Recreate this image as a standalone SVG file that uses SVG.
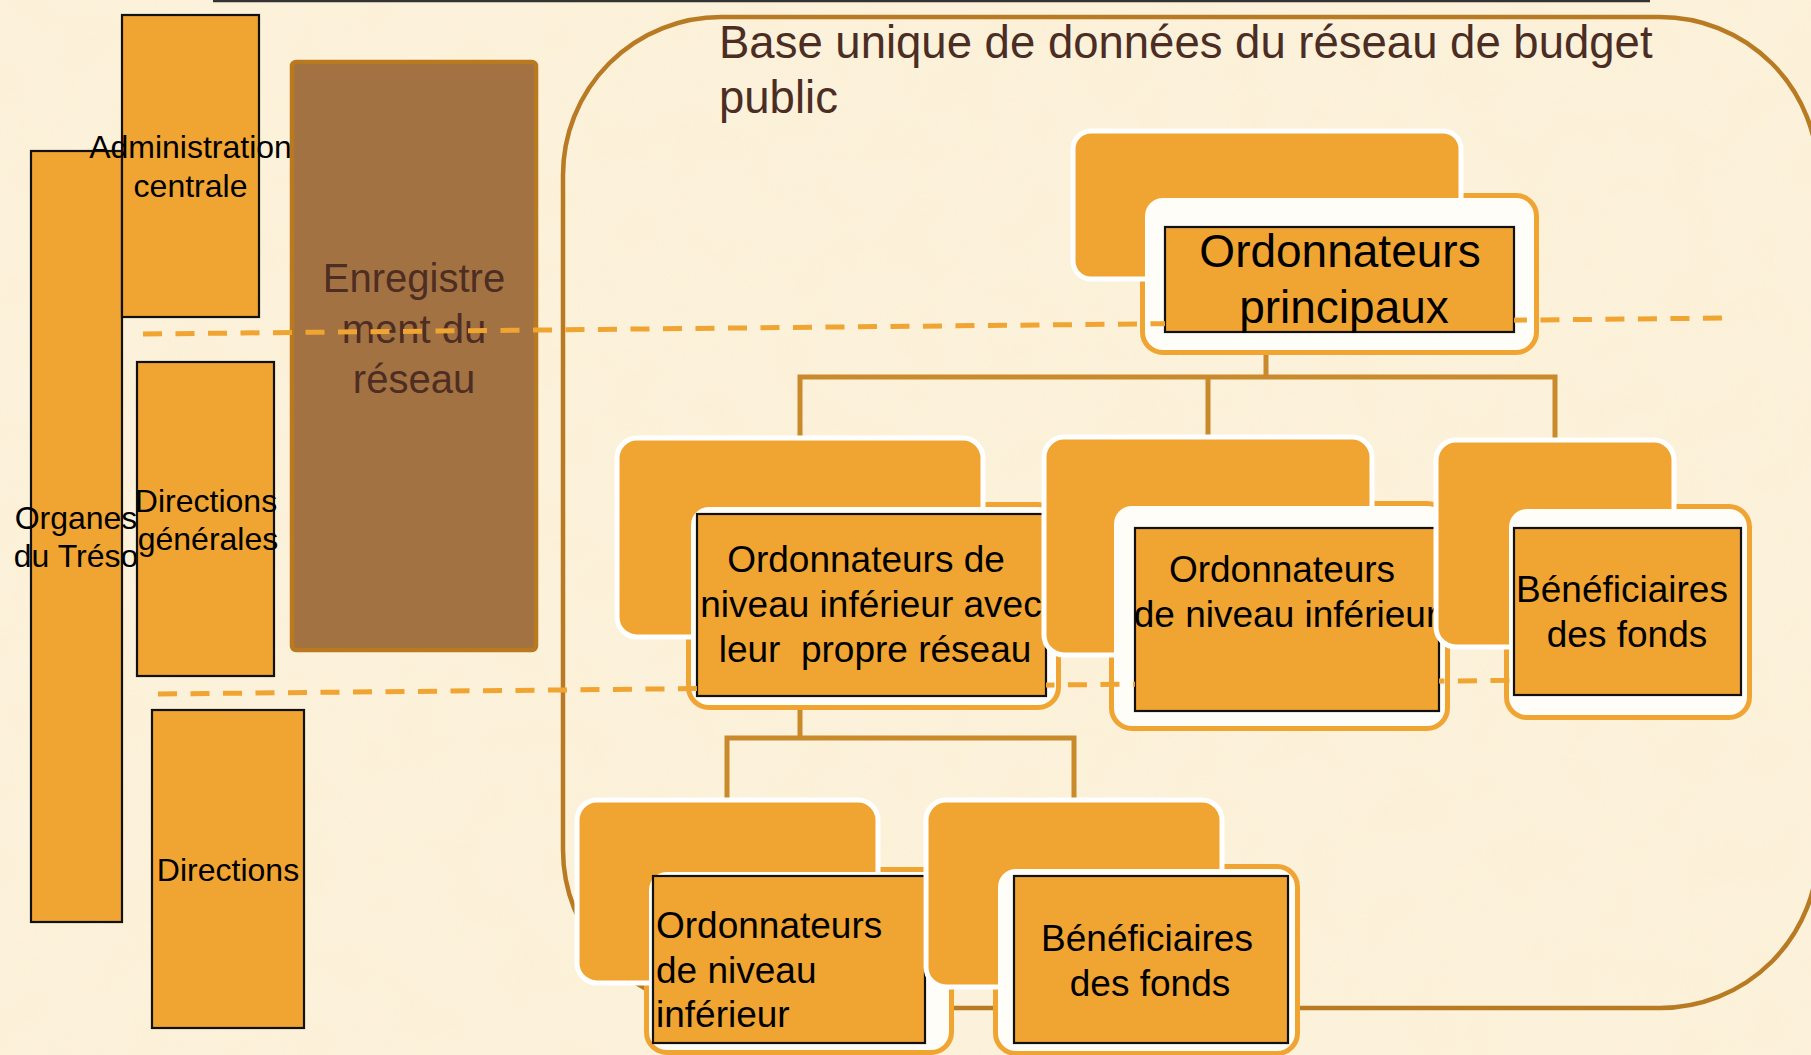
<svg xmlns="http://www.w3.org/2000/svg" width="1811" height="1055" viewBox="0 0 1811 1055">
<defs>
<style>
.t{font-family:"Liberation Sans",Arial,sans-serif;fill:#000}
.lc{font-size:32px;text-anchor:middle}
.nd{font-size:37px;text-anchor:middle}
.ttl{font-family:"Liberation Sans",Arial,sans-serif;font-size:45.5px;fill:#4b2d24}
.brn{font-family:"Liberation Sans",Arial,sans-serif;font-size:40px;fill:#4e2e22;text-anchor:middle}
.box{fill:#f0a431;stroke:#111;stroke-width:2.2}
.back{fill:#f0a431;stroke:#ffffff;stroke-width:5}
.frontS{fill:#ffffff;stroke:#f0a431;stroke-width:6}
.frontF{fill:#fffdf8;stroke:none}
.inner{fill:#f0a431;stroke:#111;stroke-width:2.2}
.con{fill:none;stroke:#c98a2c;stroke-width:5;stroke-linejoin:miter}
.dash{fill:none;stroke:#f0a431;stroke-width:5;stroke-dasharray:19 13.5}
</style>
<filter id="paper" x="0" y="0" width="100%" height="100%">
<feTurbulence type="fractalNoise" baseFrequency="0.018" numOctaves="3" seed="7"/>
<feColorMatrix type="matrix" values="0 0 0 0 0.95  0 0 0 0 0.86  0 0 0 0 0.62  0 0 0 0.6 -0.2"/>
</filter>
<mask id="dm" maskUnits="userSpaceOnUse" x="0" y="0" width="1811" height="1055">
<rect width="1811" height="1055" fill="#fff"/>
<rect x="1165" y="227" width="349" height="105" fill="#000"/>
<rect x="697" y="514" width="349" height="182" fill="#000"/>
<rect x="1135" y="528" width="304" height="183" fill="#000"/>
<rect x="1514" y="528" width="227" height="167" fill="#000"/>
</mask>
</defs>

<rect width="1811" height="1055" fill="#fcf1da"/>
<rect width="1811" height="1055" filter="url(#paper)" opacity="0.7"/>

<line x1="213" y1="1" x2="1650" y2="1" stroke="#333" stroke-width="2.5"/>

<g id="container">
<rect x="563" y="17" width="1255" height="991" rx="158" ry="158" fill="none" stroke="#b87a22" stroke-width="4.5"/>
<text class="ttl" x="719" y="58">Base unique de données du réseau de budget</text>
<text class="ttl" x="719" y="113">public</text>
</g>

<g id="organes">
<rect class="box" x="31" y="151" width="91" height="771"/>
<text class="t lc" x="76" y="529">Organes</text>
<text class="t lc" x="76" y="567">du Tréso</text>
</g>
<g id="admin-centrale">
<rect class="box" x="122" y="15" width="137" height="302"/>
<text class="t lc" x="190.5" y="158">Administration</text>
<text class="t lc" x="190.5" y="197">centrale</text>
</g>
<g id="directions-generales">
<rect class="box" x="137" y="362" width="137" height="314"/>
<text class="t lc" x="206" y="512">Directions</text>
<text class="t lc" x="208" y="550">générales</text>
</g>
<g id="directions">
<rect class="box" x="152" y="710" width="152" height="318"/>
<text class="t lc" x="228" y="881">Directions</text>
</g>
<g id="enregistrement">
<rect x="292" y="62" width="244" height="588" rx="4" fill="#a37243" stroke="#b8791f" stroke-width="4.5"/>
<text class="brn" x="414" y="292">Enregistre</text>
<text class="brn" x="414" y="343">ment du</text>
<text class="brn" x="414" y="393">réseau</text>
</g>

<g id="connectors">
<path class="con" d="M1266 352 V377 M800 437 V377 H1555 V440 M1208 377 V437"/>
<path class="con" d="M800 707 V738 M727 798 V738 H1074 V798"/>
</g>

<g id="ord-principaux">
<rect class="frontS" x="1143" y="196" width="393" height="156" rx="20"/>
<rect class="back" x="1073" y="131" width="388" height="148" rx="18"/>
<rect class="frontF" x="1145" y="198" width="389" height="152" rx="18"/>
<rect class="inner" x="1165" y="227" width="349" height="105"/>
<text class="t" x="1340" y="267" font-size="46" text-anchor="middle">Ordonnateurs</text>
<text class="t" x="1344" y="323" font-size="46" text-anchor="middle">principaux</text>
</g>

<g id="ord-reseau">
<rect class="frontS" x="689" y="505" width="369" height="202" rx="20"/>
<rect class="back" x="617" y="438" width="366" height="199" rx="20"/>
<rect class="frontF" x="691" y="507" width="365" height="198" rx="18"/>
<rect class="inner" x="697" y="514" width="349" height="182"/>
<text class="t nd" x="866" y="572">Ordonnateurs de</text>
<text class="t nd" x="871" y="617">niveau inférieur avec</text>
<text class="t nd" x="875" y="662" xml:space="preserve">leur  propre réseau</text>
</g>

<g id="ord-inferieur-1">
<rect class="frontS" x="1112" y="504" width="335" height="224" rx="20"/>
<rect class="back" x="1044" y="437" width="328" height="218" rx="20"/>
<rect class="frontF" x="1114" y="506" width="331" height="220" rx="18"/>
<rect class="inner" x="1135" y="528" width="304" height="183"/>
<text class="t nd" x="1282" y="582">Ordonnateurs</text>
<text class="t nd" x="1286" y="627">de niveau inférieur</text>
</g>

<g id="beneficiaires-1">
<rect class="frontS" x="1507" y="507" width="242" height="210" rx="20"/>
<rect class="back" x="1436" y="440" width="238" height="207" rx="20"/>
<rect class="frontF" x="1509" y="509" width="238" height="206" rx="18"/>
<rect class="inner" x="1514" y="528" width="227" height="167"/>
<text class="t nd" x="1622" y="602">Bénéficiaires</text>
<text class="t nd" x="1627" y="647">des fonds</text>
</g>

<g id="ord-inferieur-2">
<rect class="frontS" x="647" y="870" width="304" height="182" rx="20"/>
<rect class="back" x="577" y="800" width="301" height="183" rx="20"/>
<rect class="frontF" x="649" y="872" width="300" height="178" rx="18"/>
<rect class="inner" x="653" y="876" width="272" height="167"/>
<text class="t" x="656" y="938" font-size="37">Ordonnateurs</text>
<text class="t" x="656" y="983" font-size="37">de niveau</text>
<text class="t" x="656" y="1027" font-size="37">inférieur</text>
</g>

<g id="beneficiaires-2">
<rect class="frontS" x="996" y="867" width="301" height="186" rx="20"/>
<rect class="back" x="926" y="800" width="296" height="187" rx="20"/>
<rect class="frontF" x="998" y="869" width="297" height="182" rx="18"/>
<rect class="inner" x="1014" y="876" width="274" height="167"/>
<text class="t nd" x="1147" y="951">Bénéficiaires</text>
<text class="t nd" x="1150" y="996">des fonds</text>
</g>

<g id="dashed-lines" mask="url(#dm)">
<line class="dash" x1="143" y1="334" x2="1730" y2="318"/>
<line class="dash" x1="158" y1="694" x2="1745" y2="678"/>
</g>
</svg>
